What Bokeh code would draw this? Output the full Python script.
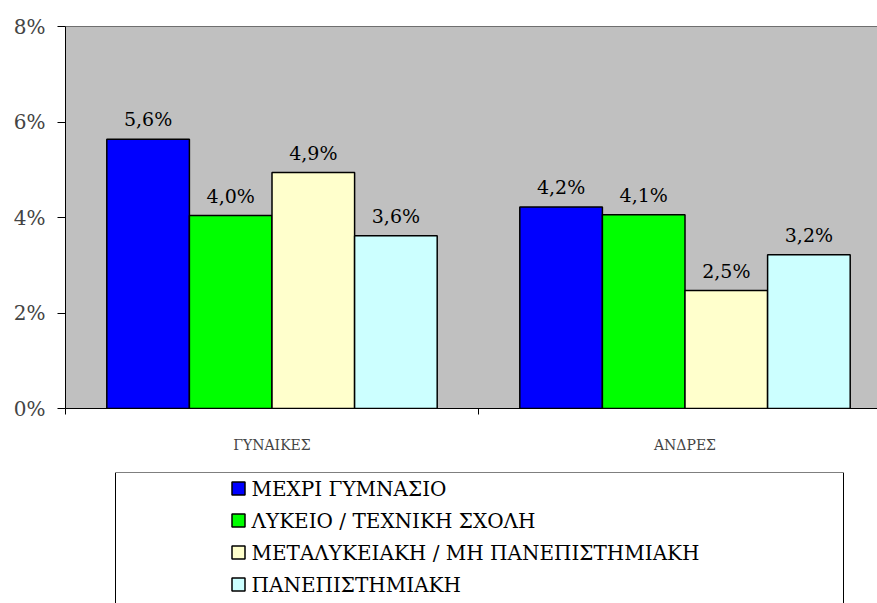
from bokeh.plotting import figure
from bokeh.models import ColumnDataSource, FixedTicker, Range1d, Span
from bokeh.layouts import column
from bokeh.core.properties import value
from bokeh.embed import file_html
from bokeh.resources import INLINE

# ---- data ----
groups = ["ΓΥΝΑΙΚΕΣ", "ΑΝΔΡΕΣ"]
series = ["ΜΕΧΡΙ ΓΥΜΝΑΣΙΟ", "ΛΥΚΕΙΟ / ΤΕΧΝΙΚΗ ΣΧΟΛΗ",
          "ΜΕΤΑΛΥΚΕΙΑΚΗ / ΜΗ ΠΑΝΕΠΙΣΤΗΜΙΑΚΗ", "ΠΑΝΕΠΙΣΤΗΜΙΑΚΗ"]
gynaikes = [5.64, 4.04, 4.94, 3.62]
andres = [4.22, 4.06, 2.47, 3.22]
y_ticks = [0, 2, 4, 6, 8]
y_tick_labels = ["0%", "2%", "4%", "6%", "8%"]

colors = ["#0000FF", "#00FF00", "#FFFFCC", "#CCFFFF"]
FONT = "DejaVu Serif"

values_by_group = [gynaikes, andres]
n = len(series)
bw = 0.2
xs, tops, fills, labels = [], [], [], []
for gi, vals in enumerate(values_by_group):
    for si, v in enumerate(vals):
        xs.append(gi + 1 + (si - (n - 1) / 2) * bw)
        tops.append(v)
        fills.append(colors[si])
        labels.append(f"{v:.1f}".replace(".", ",") + "%")
src = ColumnDataSource(dict(x=xs, top=tops, fill=fills, label=labels))

FRAME_W = 812
p = figure(width=877, height=465, output_backend="svg", toolbar_location=None,
           x_range=Range1d(0.5, 0.5 + FRAME_W / 413), y_range=Range1d(0, 8),
           min_border_left=65, min_border_right=0, min_border_top=26,
           min_border_bottom=57)
p.background_fill_color = "#C0C0C0"
p.border_fill_color = "white"
p.outline_line_color = None
p.grid.visible = False

p.vbar(x="x", top="top", width=bw, bottom=0, fill_color="fill",
       line_color="black", line_width=1.5, source=src)
p.text(x="x", y="top", text="label", source=src, text_align="center",
       text_baseline="alphabetic", y_offset=-20,
       text_font=value(FONT), text_font_size="19px", text_color="black")

p.add_layout(Span(location=8, dimension="width", line_color="black", line_width=1))

# y axis
ya = p.yaxis[0]
ya.ticker = FixedTicker(ticks=y_ticks)
ya.major_label_overrides = {t: l for t, l in zip(y_ticks, y_tick_labels)}
ya.major_label_text_font = FONT
ya.major_label_text_font_size = "20px"
ya.major_tick_out = 8
ya.major_tick_in = 0
ya.minor_tick_out = 0
ya.minor_tick_in = 0
ya.major_label_standoff = 12
ya.axis_line_color = "black"

# x axis
xa = p.xaxis[0]
centers = [i + 1 for i in range(len(groups))]
xa.ticker = FixedTicker(ticks=centers,
                        minor_ticks=[c - 0.5 for c in centers] + [centers[-1] + 0.5])
xa.major_label_overrides = {c: g for c, g in zip(centers, groups)}
xa.major_label_text_font = FONT
xa.major_label_text_font_size = "14px"
xa.major_tick_out = 0
xa.major_tick_in = 0
xa.minor_tick_out = 6
xa.minor_tick_in = 0
xa.major_label_standoff = 22
xa.axis_line_color = "black"

# ---- legend box ----
leg = figure(width=877, height=138, output_backend="svg", toolbar_location=None,
             x_range=Range1d(0, FRAME_W), y_range=Range1d(131, 0),
             min_border_left=65, min_border_right=0, min_border_top=7,
             min_border_bottom=0)
leg.axis.visible = False
leg.grid.visible = False
leg.outline_line_color = None
leg.background_fill_color = "white"
lsrc = ColumnDataSource(dict(
    x=[173] * n,
    y=[16 + 32 * i for i in range(n)],
    tx=[186] * n,
    name=series,
    fill=colors,
))
leg.rect(x="x", y="y", width=13, height=13, fill_color="fill",
         line_color="black", line_width=1.5, source=lsrc)
leg.text(x="tx", y="y", text="name", source=lsrc, text_align="left",
         text_baseline="middle", text_font=value(FONT), text_font_size="20px",
         text_color="black")
leg.segment(x0=[50, 50, 778], y0=[0, 0, 0], x1=[778, 50, 778], y1=[0, 131, 131],
            line_color="black", line_width=1)

layout = column(p, leg, spacing=0)
open("out.html", "w").write(file_html(layout, INLINE))
